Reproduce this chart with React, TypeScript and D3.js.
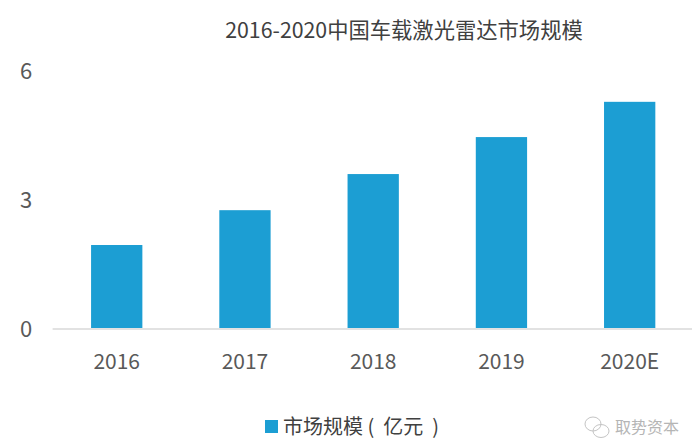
import { useEffect, useRef } from "react"
import * as d3 from "d3"

const title = "2016-2020中国车载激光雷达市场规模"
const years = ["2016", "2017", "2018", "2019", "2020E"]
const marketSize = [1.93, 2.74, 3.58, 4.44, 5.26]
const yTicks = [0, 3, 6]
const legendLabel = "市场规模\u00a0(\u00a0\u00a0亿元\u00a0\u00a0)"
const watermark = "取势资本"

const width = 698
const height = 448
const font = "'Noto Sans CJK SC', 'Open Sans', sans-serif"

const App = () => {
  const svgRef = useRef<SVGSVGElement | null>(null)

  useEffect(() => {
    if (!svgRef.current) return

    const svg = d3.select(svgRef.current)
    svg.selectAll("*").remove()

    const x = d3.scaleBand().domain(years).range([52.6, 693.8]).paddingInner(0.6).paddingOuter(0.3)
    const y = d3.scaleLinear().domain([0, 6]).range([328, 70])

    // Title
    svg
      .append("text")
      .attr("x", 404)
      .attr("y", 38)
      .attr("text-anchor", "middle")
      .attr("font-size", 21.3)
      .attr("fill", "#404040")
      .text(title)

    // Y axis labels
    svg
      .selectAll(".y-label")
      .data(yTicks)
      .join("text")
      .attr("class", "y-label")
      .attr("x", 26)
      .attr("y", (d) => y(d) + 8.5)
      .attr("text-anchor", "middle")
      .attr("font-size", 22)
      .attr("fill", "#595959")
      .text((d) => d)

    // Bars
    svg
      .selectAll(".bar")
      .data(marketSize)
      .join("rect")
      .attr("class", "bar")
      .attr("x", (d, i) => x(years[i]) as number)
      .attr("y", (d) => y(d))
      .attr("width", x.bandwidth())
      .attr("height", (d) => y(0) - y(d))
      .attr("fill", "#1c9ed3")

    // Baseline
    svg
      .append("line")
      .attr("x1", 52.6)
      .attr("x2", 692)
      .attr("y1", y(0) + 1)
      .attr("y2", y(0) + 1)
      .attr("stroke", "#d9d9d9")
      .attr("stroke-width", 1.5)

    // X axis labels
    svg
      .selectAll(".x-label")
      .data(years)
      .join("text")
      .attr("class", "x-label")
      .attr("x", (d) => (x(d) as number) + x.bandwidth() / 2)
      .attr("y", 368.5)
      .attr("text-anchor", "middle")
      .attr("font-size", 21)
      .attr("fill", "#595959")
      .text((d) => d)

    // Legend
    svg.append("rect").attr("x", 265).attr("y", 420).attr("width", 13).attr("height", 13).attr("fill", "#1c9ed3")
    svg
      .append("text")
      .attr("x", 283)
      .attr("y", 434)
      .attr("font-size", 20)
      .attr("fill", "#404040")
      .text(legendLabel)

    // Watermark
    const icon = svg.append("g").attr("fill", "none").attr("stroke", "#c4c4c4").attr("stroke-width", 1)
    icon.append("ellipse").attr("cx", 593).attr("cy", 424).attr("rx", 8).attr("ry", 7)
    icon.append("ellipse").attr("cx", 601).attr("cy", 431).attr("rx", 8).attr("ry", 6.5)
    svg
      .append("text")
      .attr("x", 615)
      .attr("y", 433)
      .attr("font-size", 16)
      .attr("fill", "#b5b5b5")
      .text(watermark)
  }, [])

  return (
    <svg
      ref={svgRef}
      width={width}
      height={height}
      fontFamily={font}
      style={{ position: "fixed", left: 0, top: 0, background: "#fff" }}
    />
  )
}

export default App
